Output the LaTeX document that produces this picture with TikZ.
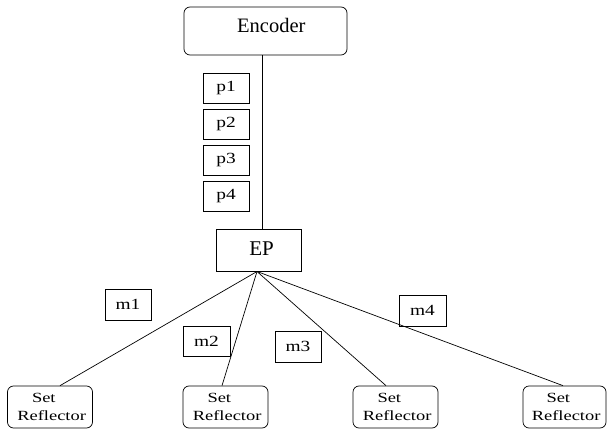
\documentclass[tikz,border=0pt]{standalone}
\usepackage{fontspec}
\setmainfont{Liberation Serif}
\newfontfamily\wideserif[FakeStretch=1.32]{Liberation Serif}
\newfontfamily\labserif[FakeStretch=1.25]{Liberation Serif}
\newcommand{\setrefl}{\makebox[36pt][l]{Set}\\\makebox[72pt][r]{Reflector}}
\begin{document}
\begin{tikzpicture}[x=1pt,y=-1pt,line width=0.7pt,
  rbox/.style={draw,rounded corners=6pt,inner sep=0pt},
  lbox/.style={draw,inner sep=0pt,font=\labserif\fontsize{15.5}{17}\selectfont},
  refl/.style={draw,rounded corners=6pt,inner sep=0pt,minimum width=85pt,minimum height=42pt,align=center,font=\wideserif\fontsize{14}{18.4}\selectfont}]
\useasboundingbox (0,0) rectangle (607,430);
\node[rbox,minimum width=163pt,minimum height=48pt,text height=12pt,text depth=8.6pt,font=\fontsize{20.5}{22}\selectfont] (enc) at (265.5,31) {\makebox[80pt][r]{Encoder}};
\node[draw,inner sep=0pt,minimum width=85pt,minimum height=42pt,text height=14pt,text depth=3.4pt,font=\fontsize{21}{23}\selectfont] (ep) at (258.5,250) {\hspace*{6pt}EP};
\node[lbox,minimum width=46pt,minimum height=30pt] (p1) at (226,88) {p1};
\node[lbox,minimum width=46pt,minimum height=30pt] (p2) at (226,124) {p2};
\node[lbox,minimum width=46pt,minimum height=30pt] (p3) at (226,160) {p3};
\node[lbox,minimum width=46pt,minimum height=30pt] (p4) at (226,196) {p4};
\node[lbox,minimum width=46pt,minimum height=31pt] (m1) at (128,304.5) {m1};
\node[lbox,minimum width=47pt,minimum height=30pt] (m2) at (206.5,341) {m2};
\node[lbox,minimum width=46pt,minimum height=31pt] (m3) at (298,346.5) {m3};
\node[lbox,minimum width=47pt,minimum height=31pt] (m4) at (422.5,310.5) {m4};
\node[refl] (r1) at (50,407) {\setrefl};
\node[refl] (r2) at (225.5,407) {\setrefl};
\node[refl] (r3) at (395.5,407) {\setrefl};
\node[refl,minimum width=83pt] (r4) at (564.5,407) {\setrefl};
\coordinate (hub) at (257,271.5);
\draw ([xshift=-3.5pt]enc.south) -- ([xshift=3.5pt]ep.north);
\draw (hub) -- ([xshift=10pt]r1.north);
\draw (hub) -- ([xshift=-3.5pt]r2.north);
\draw (hub) -- ([xshift=-9.5pt]r3.north);
\draw (hub) -- ([xshift=-1.5pt]r4.north);
\end{tikzpicture}
\end{document}
